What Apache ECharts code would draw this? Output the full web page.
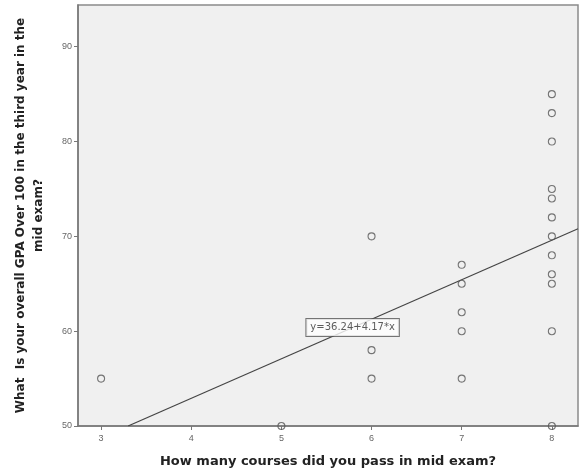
<!DOCTYPE html>
<html><head><meta charset="utf-8">
<script src="https://cdn.jsdelivr.net/npm/echarts@6/dist/echarts.min.js"></script>
<style>html,body{margin:0;padding:0;background:#fff}#c{width:580px;height:475px}</style>
</head><body><div id="c"></div>
<script>
const coursesPassed = [3, 5, 6, 6, 6, 7, 7, 7, 7, 7, 8, 8, 8, 8, 8, 8, 8, 8, 8, 8, 8, 8];
const gpaValues     = [55, 50, 70, 58, 55, 67, 65, 62, 60, 55, 85, 83, 80, 75, 74, 72, 70, 68, 66, 65, 60, 50];
const xTicks = [3, 4, 5, 6, 7, 8];
const yTicks = [50, 60, 70, 80, 90];
const fitIntercept = 36.24;
const fitSlope = 4.17;
const fitLabel = 'y=36.24+4.17*x';
const xRange = [2.744, 8.29];
const yRange = [50, 94.4];

const xStart = (yRange[0] - fitIntercept) / fitSlope;
const fitLine = [[xStart, fitIntercept + fitSlope * xStart], [xRange[1], fitIntercept + fitSlope * xRange[1]]];

const chart = echarts.init(document.getElementById('c'), null, {renderer: 'canvas'});
chart.setOption({
  animation: false,
  grid: {left: 78, right: 2, top: 5, bottom: 49, outerBoundsMode: 'none', containLabel: false,
    show: true, backgroundColor: '#f0f0f0', borderColor: '#8a8a8a', borderWidth: 1.5},
  xAxis: {
    type: 'value', min: xRange[0], max: xRange[1],
    name: 'How many courses did you pass in mid exam?', nameLocation: 'middle', nameGap: 29,
    nameTextStyle: {fontFamily: 'DejaVu Sans', fontWeight: 'bold', fontSize: 13, color: '#222'},
    splitLine: {show: false},
    axisLine: {lineStyle: {color: '#777', width: 1.5}},
    axisTick: {customValues: xTicks, length: 4, lineStyle: {color: '#777'}},
    axisLabel: {customValues: xTicks, fontFamily: 'Liberation Sans', fontSize: 9, color: '#666', margin: 8}
  },
  yAxis: {
    type: 'value', min: yRange[0], max: yRange[1],
    name: 'What  Is your overall GPA Over 100 in the third year in the\nmid exam?', nameLocation: 'middle', nameGap: 30, nameRotate: 90,
    nameTextStyle: {fontFamily: 'DejaVu Sans', fontWeight: 'bold', fontSize: 12, color: '#222', lineHeight: 18, align: 'center'},
    splitLine: {show: false},
    axisLine: {show: true, lineStyle: {color: '#777', width: 1.5}},
    axisTick: {show: true, customValues: yTicks, length: 4, lineStyle: {color: '#777'}},
    axisLabel: {customValues: yTicks, fontFamily: 'Liberation Sans', fontSize: 9, color: '#666', margin: 6}
  },
  series: [
    {
      type: 'line', data: fitLine, symbol: 'none', silent: true,
      lineStyle: {color: '#444', width: 1.2}, z: 2
    },
    {
      type: 'scatter', data: coursesPassed.map((x, i) => [x, gpaValues[i]]),
      symbol: 'circle', symbolSize: 7,
      itemStyle: {color: 'rgba(0,0,0,0)', borderColor: '#555', borderWidth: 1.1}, z: 3
    },
    {
      type: 'scatter', symbolSize: 0, silent: true, z: 4,
      data: [[5.79, 60.4]],
      label: {show: true, position: 'inside', formatter: fitLabel, fontFamily: 'DejaVu Sans', fontSize: 10, color: '#333',
        backgroundColor: '#fff', borderColor: '#555', borderWidth: 1, padding: [4, 4, 3, 4]}
    }
  ]
});
</script></body></html>
